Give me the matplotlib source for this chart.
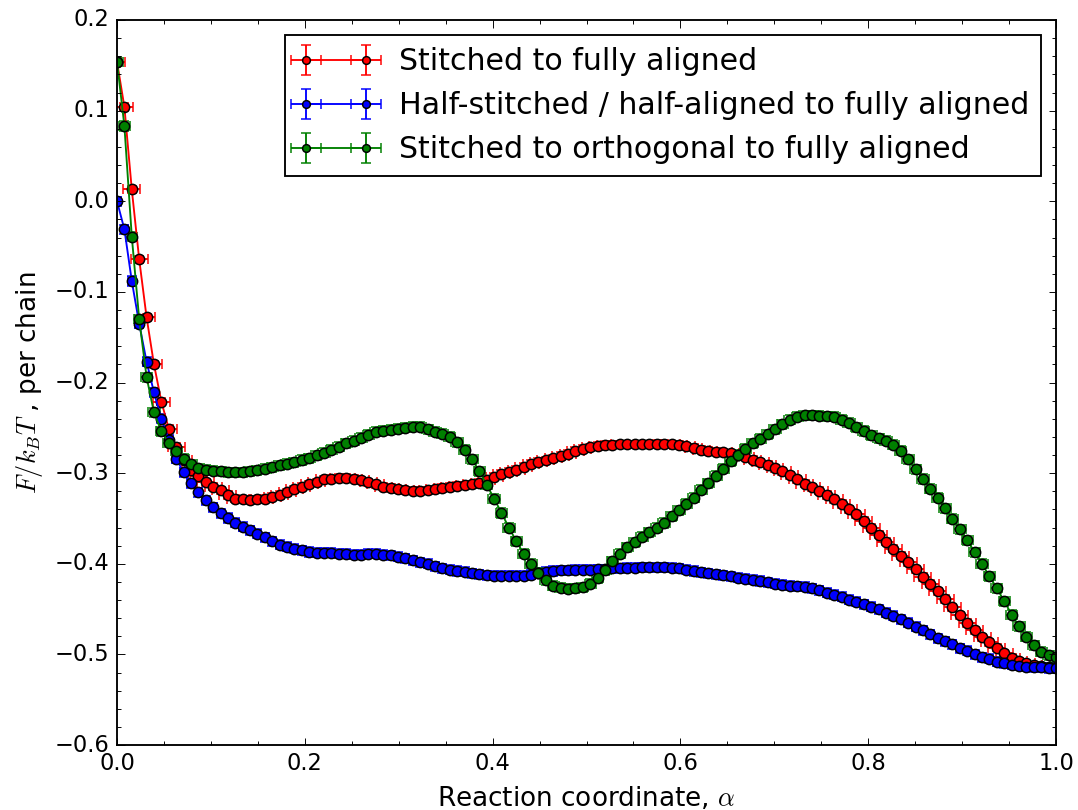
import numpy as np
import matplotlib
matplotlib.use('Agg')
import matplotlib.pyplot as plt
from matplotlib.ticker import MultipleLocator

# Reaction coordinate grid (128 samples from 0 to 1).
alpha = np.linspace(0.0, 1.0, 128)

labels = ['Stitched to fully aligned',
          'Half-stitched / half-aligned to fully aligned',
          'Stitched to orthogonal to fully aligned']

stitched_aligned = [
    0.154, 0.104, 0.013, -0.064, -0.128, -0.180, -0.221, -0.251, -0.271, -0.286,
    -0.296, -0.303, -0.310, -0.315, -0.319, -0.324, -0.328, -0.329, -0.330, -0.329,
    -0.328, -0.326, -0.324, -0.321, -0.318, -0.315, -0.3125, -0.310, -0.307, -0.306,
    -0.305, -0.3055, -0.306, -0.308, -0.310, -0.3125, -0.315, -0.3165, -0.318, -0.319,
    -0.3195, -0.3195, -0.319, -0.318, -0.3165, -0.315, -0.314, -0.3135, -0.3125, -0.311,
    -0.308, -0.304, -0.301, -0.2985, -0.296, -0.293, -0.290, -0.2875, -0.286, -0.2835,
    -0.281, -0.279, -0.2755, -0.273, -0.2715, -0.270, -0.269, -0.2685, -0.268, -0.268,
    -0.268, -0.268, -0.268, -0.2675, -0.2675, -0.268, -0.269, -0.2705, -0.272, -0.274,
    -0.2755, -0.2765, -0.277, -0.278, -0.280, -0.282, -0.285, -0.288, -0.291, -0.2945,
    -0.298, -0.3025, -0.307, -0.3115, -0.3155, -0.3195, -0.324, -0.329, -0.334, -0.340,
    -0.3455, -0.3525, -0.360, -0.368, -0.3755, -0.3835, -0.391, -0.3985, -0.406, -0.4145,
    -0.422, -0.4305, -0.439, -0.448, -0.457, -0.4655, -0.4735, -0.481, -0.4865, -0.4925,
    -0.499, -0.504, -0.5075, -0.510, -0.512, -0.513, -0.514, -0.515,
]

half_stitched = [
    0.000, -0.031, -0.088, -0.135, -0.177, -0.211, -0.240, -0.263, -0.284, -0.299,
    -0.311, -0.321, -0.330, -0.3375, -0.3445, -0.3495, -0.3545, -0.359, -0.363, -0.367,
    -0.371, -0.375, -0.379, -0.381, -0.3835, -0.385, -0.387, -0.388, -0.388, -0.388,
    -0.389, -0.389, -0.390, -0.390, -0.389, -0.389, -0.390, -0.3905, -0.392, -0.394,
    -0.396, -0.3985, -0.400, -0.403, -0.405, -0.4065, -0.408, -0.409, -0.4105, -0.4115,
    -0.4125, -0.413, -0.413, -0.413, -0.413, -0.413, -0.412, -0.410, -0.409, -0.408,
    -0.407, -0.407, -0.4065, -0.4065, -0.4065, -0.406, -0.406, -0.405, -0.405, -0.4045,
    -0.4045, -0.404, -0.404, -0.404, -0.404, -0.4045, -0.405, -0.4065, -0.408, -0.4095,
    -0.4105, -0.4115, -0.4125, -0.414, -0.4155, -0.4165, -0.4175, -0.419, -0.4205, -0.422,
    -0.423, -0.424, -0.425, -0.4255, -0.427, -0.4295, -0.432, -0.434, -0.4365, -0.4395,
    -0.442, -0.4445, -0.4475, -0.450, -0.454, -0.4575, -0.461, -0.465, -0.4695, -0.4735,
    -0.478, -0.482, -0.4855, -0.489, -0.493, -0.496, -0.500, -0.503, -0.505, -0.508,
    -0.5095, -0.5115, -0.5125, -0.5135, -0.514, -0.514, -0.515, -0.515,
]

stitched_orthogonal = [
    0.154, 0.083, -0.039, -0.130, -0.194, -0.233, -0.254, -0.2665, -0.276, -0.284,
    -0.290, -0.2945, -0.296, -0.2975, -0.298, -0.299, -0.299, -0.299, -0.298, -0.297,
    -0.295, -0.2935, -0.2915, -0.2895, -0.288, -0.2855, -0.2835, -0.2805, -0.2775, -0.274,
    -0.271, -0.267, -0.264, -0.261, -0.2575, -0.2545, -0.253, -0.252, -0.251, -0.250,
    -0.249, -0.249, -0.2515, -0.2545, -0.2565, -0.260, -0.266, -0.274, -0.2845, -0.298,
    -0.313, -0.328, -0.344, -0.360, -0.375, -0.389, -0.400, -0.410, -0.418, -0.424,
    -0.4265, -0.4275, -0.427, -0.426, -0.422, -0.416, -0.407, -0.397, -0.389, -0.382,
    -0.3765, -0.370, -0.3655, -0.3605, -0.355, -0.3475, -0.341, -0.334, -0.327, -0.3185,
    -0.311, -0.303, -0.295, -0.287, -0.2795, -0.273, -0.267, -0.262, -0.257, -0.2515,
    -0.246, -0.241, -0.238, -0.236, -0.236, -0.2365, -0.237, -0.238, -0.241, -0.2445,
    -0.2495, -0.2535, -0.258, -0.2615, -0.2645, -0.2685, -0.2755, -0.2845, -0.2955, -0.3065,
    -0.317, -0.327, -0.339, -0.3505, -0.362, -0.374, -0.3875, -0.400, -0.414, -0.427,
    -0.4415, -0.456, -0.469, -0.4805, -0.490, -0.497, -0.501, -0.503,
]

# Error bar half-widths (x, y) for each series.
xerrs = [0.009, 0.004, 0.006]
yerrs = [0.004, 0.005, 0.005]
colors = ['r', 'b', 'g']

plt.style.use('classic')
plt.rcParams['mathtext.fontset'] = 'cm'

fig = plt.figure(figsize=(1078 / 135, 810 / 135), dpi=135)
fig.patch.set_facecolor('white')
ax = fig.add_axes([117 / 1078, 65 / 810, 939 / 1078, 725 / 810])

series = [stitched_aligned, half_stitched, stitched_orthogonal]
for values, label, color, xe, ye in zip(series, labels, colors, xerrs, yerrs):
    ax.errorbar(alpha, values, xerr=xe, yerr=ye, fmt='o-', color=color,
                ecolor=color, mec='k', mew=0.8, ms=5.5, lw=1.0,
                capsize=2.5, label=label)

ax.set_xlim(0.0, 1.0)
ax.set_ylim(-0.6, 0.2)
ax.xaxis.set_major_locator(MultipleLocator(0.2))
ax.xaxis.set_minor_locator(MultipleLocator(0.05))
ax.yaxis.set_major_locator(MultipleLocator(0.1))
ax.yaxis.set_minor_locator(MultipleLocator(0.02))

ax.set_xlabel(r'Reaction coordinate, $\alpha$', fontsize=14)
ax.set_ylabel(r'$F/k_BT$ , per chain', fontsize=14)

ax.legend(loc='upper right', numpoints=2, fontsize=16, handlelength=2.6,
          markerscale=0.75)

fig.savefig('out.png', dpi=135, facecolor='white')
